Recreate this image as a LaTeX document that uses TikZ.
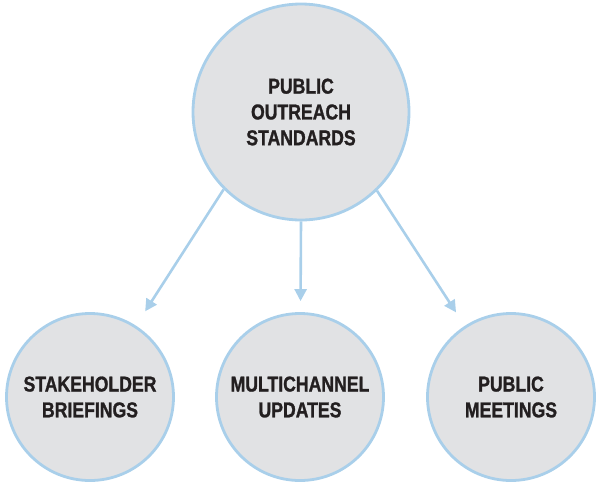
\documentclass[tikz,border=0pt]{standalone}
\usepackage{fontspec}
\setmainfont{Liberation Sans}[FakeStretch=0.82,BoldFeatures={FakeBold=1.2}]
\usetikzlibrary{arrows.meta}
\definecolor{circfill}{HTML}{E1E2E4}
\definecolor{circline}{HTML}{A9CFEA}
\definecolor{txt}{HTML}{231F20}
\begin{document}
\begin{tikzpicture}[x=1pt,y=-1pt,
  bubble/.style={circle,draw=circline,fill=circfill,line width=2.8pt,
    inner sep=0pt,text=txt,align=center,
    font=\fontsize{21.5}{25.8}\selectfont\bfseries},
  arr/.style={draw=circline,line width=2.6pt,
    -{Triangle[length=12pt,width=12pt]}}]
\useasboundingbox (0,0) rectangle (596,483);
\node[bubble,minimum size=216pt] (top) at (301,112) {PUBLIC\\OUTREACH\\STANDARDS};
\node[bubble,minimum size=167pt] (sl) at (90,397) {STAKEHOLDER\\BRIEFINGS};
\node[bubble,minimum size=167pt] (sm) at (300,397) {MULTICHANNEL\\UPDATES};
\node[bubble,minimum size=167pt] (sr) at (511,397) {PUBLIC\\MEETINGS};
\draw[arr,shorten >=17pt] (top.225.7) -- (sl);
\draw[arr,shorten >=11pt] (top.270) -- (sm);
\draw[arr,shorten >=16pt] (top.314) -- (sr);
\end{tikzpicture}
\end{document}
